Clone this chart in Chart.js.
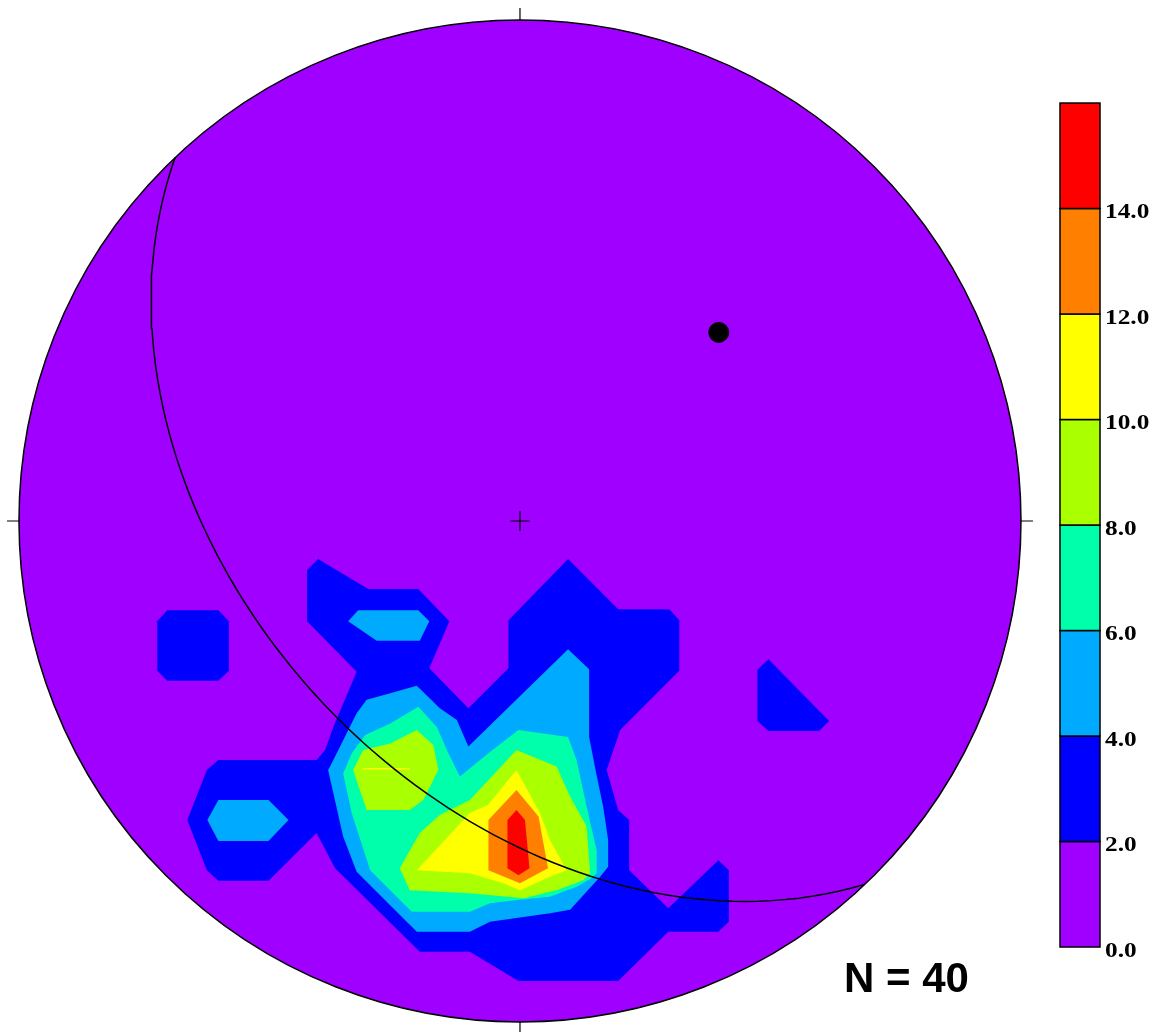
<!DOCTYPE html>
<html>
<head>
<meta charset="utf-8">
<script src="https://cdn.jsdelivr.net/npm/chart.js@4/dist/chart.umd.min.js"></script>
<style>
  html, body { margin: 0; padding: 0; background: #fff; }
  #wrap { position: relative; width: 1159px; height: 1032px; }
</style>
</head>
<body>
<div id="wrap"><canvas id="net"></canvas></div>
<script>
// contour levels (density %) and the colour of each band
const levelTicks = [0, 2, 4, 6, 8, 10, 12, 14, 16];
const levelLabels = ["0.0", "2.0", "4.0", "6.0", "8.0", "10.0", "12.0", "14.0"];
const levelColors = ["#A000FF", "#0000FF", "#00AAFF", "#00FFAA", "#AAFF00", "#FFFF00", "#FF8000", "#FF0000"];

// plane (great circle) and its pole, degrees
const planeDipDir = 226.5;
const planeDip = 45.5;
const poleTrendPlunge = [46.5, 44.5];
const sampleCount = 40;

// contour polygons in net units (radius = 1, x east, y north)
const above2 = [
  [[-0.425,-0.098],[-0.403,-0.076],[-0.303,-0.136],[-0.203,-0.136],[-0.141,-0.200],[-0.181,-0.294],[-0.103,-0.374],[-0.023,-0.294],[-0.023,-0.198],[0.096,-0.076],[0.196,-0.176],[0.298,-0.176],[0.318,-0.198],[0.318,-0.299],[0.200,-0.417],[0.173,-0.497],[0.196,-0.577],[0.218,-0.597],[0.218,-0.697],[0.296,-0.773],[0.396,-0.677],[0.417,-0.697],[0.417,-0.800],[0.396,-0.820],[0.296,-0.820],[0.196,-0.918],[-0.003,-0.918],[-0.100,-0.860],[-0.200,-0.860],[-0.369,-0.693],[-0.406,-0.623],[-0.502,-0.718],[-0.602,-0.718],[-0.625,-0.697],[-0.664,-0.597],[-0.625,-0.497],[-0.602,-0.477],[-0.406,-0.477],[-0.389,-0.457],[-0.371,-0.407],[-0.326,-0.301],[-0.425,-0.200]],
  [[-0.724,-0.200],[-0.704,-0.178],[-0.602,-0.178],[-0.581,-0.200],[-0.581,-0.299],[-0.602,-0.319],[-0.704,-0.319],[-0.724,-0.299]],
  [[0.474,-0.297],[0.496,-0.276],[0.617,-0.399],[0.597,-0.419],[0.496,-0.419],[0.474,-0.399]]
];
const above4 = [
  [[-0.343,-0.200],[-0.323,-0.178],[-0.203,-0.178],[-0.181,-0.200],[-0.200,-0.239],[-0.286,-0.239]],
  [[-0.602,-0.557],[-0.502,-0.557],[-0.462,-0.597],[-0.502,-0.639],[-0.602,-0.639],[-0.624,-0.597]],
  [[-0.306,-0.357],[-0.259,-0.344],[-0.206,-0.329],[-0.160,-0.374],[-0.126,-0.397],[-0.103,-0.450],[0.096,-0.256],[0.138,-0.296],[0.138,-0.431],[0.152,-0.503],[0.166,-0.570],[0.176,-0.637],[0.176,-0.690],[0.160,-0.710],[0.100,-0.776],[0.060,-0.783],[-0.060,-0.800],[-0.100,-0.820],[-0.206,-0.820],[-0.326,-0.700],[-0.353,-0.630],[-0.383,-0.497],[-0.376,-0.484],[-0.326,-0.384]]
];
const above6 = [
  [[-0.336,-0.464],[-0.309,-0.427],[-0.259,-0.404],[-0.203,-0.371],[-0.166,-0.411],[-0.144,-0.461],[-0.120,-0.510],[-0.060,-0.461],[-0.003,-0.417],[0.096,-0.431],[0.113,-0.477],[0.133,-0.570],[0.153,-0.657],[0.153,-0.703],[0.143,-0.713],[0.113,-0.730],[0.060,-0.750],[0.000,-0.756],[-0.060,-0.763],[-0.100,-0.780],[-0.216,-0.780],[-0.299,-0.697],[-0.336,-0.583],[-0.353,-0.504]]
];
const above8 = [
  [[-0.333,-0.497],[-0.313,-0.457],[-0.259,-0.444],[-0.206,-0.417],[-0.173,-0.447],[-0.163,-0.497],[-0.193,-0.557],[-0.220,-0.577],[-0.306,-0.577]],
  [[-0.007,-0.457],[0.073,-0.490],[0.100,-0.550],[0.133,-0.610],[0.140,-0.703],[0.126,-0.717],[0.073,-0.737],[0.007,-0.753],[-0.100,-0.743],[-0.220,-0.737],[-0.240,-0.693],[-0.200,-0.623],[-0.160,-0.587],[-0.100,-0.557]]
];
const above10 = [
  [[-0.206,-0.697],[-0.100,-0.583],[-0.064,-0.567],[-0.007,-0.497],[0.040,-0.583],[0.060,-0.637],[0.093,-0.697],[0.060,-0.710],[0.000,-0.737],[-0.033,-0.723],[-0.100,-0.703]],
  [[-0.313,-0.493],[-0.220,-0.493],[-0.220,-0.496],[-0.313,-0.496]]
];
const above12 = [
  [[-0.063,-0.597],[-0.007,-0.537],[0.037,-0.590],[0.056,-0.693],[0.000,-0.723],[-0.063,-0.697]]
];
const above14 = [
  [[-0.025,-0.597],[-0.007,-0.577],[0.010,-0.597],[0.019,-0.693],[-0.003,-0.707],[-0.025,-0.693]]
];
const contourBands = [above2, above4, above6, above8, above10, above12, above14];

const deg = Math.PI / 180;

// lower hemisphere equal-area (Schmidt) projection of a line
function projectLine(trend, plunge) {
    const r = Math.SQRT2 * Math.sin((90 - plunge) / 2 * deg);
    return { x: r * Math.sin(trend * deg), y: r * Math.cos(trend * deg) };
}

function greatCirclePoints(dipDir, dip) {
    const strike = dipDir - 90;
    const s = [Math.sin(strike * deg), Math.cos(strike * deg), 0];
    const d = [Math.sin(dipDir * deg) * Math.cos(dip * deg), Math.cos(dipDir * deg) * Math.cos(dip * deg), Math.sin(dip * deg)];
    const pts = [];
    for (let t = 0; t <= 180; t += 2) {
        const c = Math.cos(t * deg), sn = Math.sin(t * deg);
        const v = [c * s[0] + sn * d[0], c * s[1] + sn * d[1], c * s[2] + sn * d[2]];
        const plunge = Math.asin(Math.min(1, Math.max(-1, v[2]))) / deg;
        const trend = Math.atan2(v[0], v[1]) / deg;
        pts.push(projectLine(trend, plunge));
    }
    return pts;
}

const stereoPlugin = {
    id: "stereo",
    beforeDatasetsDraw(chart) {
        const ctx = chart.ctx;
        const xs = chart.scales.x, ys = chart.scales.y, cb = chart.scales.cb;
        const cx = xs.getPixelForValue(0), cy = ys.getPixelForValue(0);
        const rad = xs.getPixelForValue(1) - cx;

        ctx.save();
        ctx.beginPath();
        ctx.arc(cx, cy, rad, 0, Math.PI * 2);
        ctx.fillStyle = levelColors[0];
        ctx.fill();
        ctx.clip();
        contourBands.forEach((band, i) => {
            ctx.fillStyle = levelColors[i + 1];
            band.forEach(poly => {
                ctx.beginPath();
                poly.forEach(([px, py], k) => {
                    const X = xs.getPixelForValue(px), Y = ys.getPixelForValue(py);
                    if (k === 0) ctx.moveTo(X, Y); else ctx.lineTo(X, Y);
                });
                ctx.closePath();
                ctx.fill();
            });
        });
        ctx.restore();

        // primitive circle, ticks and centre cross
        ctx.save();
        ctx.strokeStyle = "#000";
        ctx.lineWidth = 1.5;
        ctx.beginPath();
        ctx.arc(cx, cy, rad, 0, Math.PI * 2);
        ctx.stroke();
        ctx.lineWidth = 1.2;
        ctx.beginPath();
        ctx.moveTo(cx, cy - rad); ctx.lineTo(cx, cy - rad - 12);
        ctx.moveTo(cx, cy + rad); ctx.lineTo(cx, cy + rad + 12);
        ctx.moveTo(cx - rad, cy); ctx.lineTo(cx - rad - 12, cy);
        ctx.moveTo(cx + rad, cy); ctx.lineTo(cx + rad + 12, cy);
        ctx.moveTo(cx - 10, cy); ctx.lineTo(cx + 10, cy);
        ctx.moveTo(cx, cy - 10); ctx.lineTo(cx, cy + 10);
        ctx.stroke();
        ctx.restore();

        // colour bar
        ctx.save();
        const left = 1060, width = 40;
        for (let i = 0; i < levelColors.length; i++) {
            const yTop = cb.getPixelForValue(levelTicks[i + 1]);
            const yBot = cb.getPixelForValue(levelTicks[i]);
            ctx.fillStyle = levelColors[i];
            ctx.fillRect(left, yTop, width, yBot - yTop);
            ctx.strokeStyle = "#000";
            ctx.lineWidth = 1.5;
            ctx.strokeRect(left, yTop, width, yBot - yTop);
        }
        ctx.fillStyle = "#000";
        ctx.font = "bold 22px 'Liberation Serif', 'Times New Roman', serif";
        ctx.textBaseline = "middle";
        ctx.textAlign = "left";
        levelLabels.forEach((lab, i) => {
            const y = cb.getPixelForValue(levelTicks[i]);
            ctx.save();
            ctx.translate(1105, y + 4);
            ctx.scale(1.15, 1);
            ctx.fillText(lab, 0, 0);
            ctx.restore();
        });
        ctx.font = "bold 42px 'Liberation Sans', Arial, sans-serif";
        ctx.textBaseline = "alphabetic";
        ctx.fillText("N = " + sampleCount, 844, 992);
        ctx.restore();
    }
};

const pole = projectLine(poleTrendPlunge[0], poleTrendPlunge[1]);

new Chart(document.getElementById("net"), {
    type: "scatter",
    data: {
        datasets: [
            {
                label: "Great circle",
                data: greatCirclePoints(planeDipDir, planeDip),
                showLine: true,
                borderColor: "#000",
                borderWidth: 1.5,
                pointRadius: 0,
                tension: 0
            },
            {
                label: "Pole",
                data: [pole],
                pointRadius: 10,
                pointBackgroundColor: "#000",
                pointBorderColor: "#000"
            }
        ]
    },
    options: {
        responsive: true,
        maintainAspectRatio: false,
        animation: false,
        layout: { padding: 0, autoPadding: false },
        plugins: { legend: { display: false }, tooltip: { enabled: false } },
        scales: {
            x: { type: "linear", min: -1.0379, max: 1.2755, display: false },
            y: { type: "linear", min: -1.0200, max: 1.0399, display: false },
            cb: { type: "linear", position: "right", min: -1.611, max: 17.953, display: false }
        }
    },
    plugins: [stereoPlugin]
});
</script>
</body>
</html>
